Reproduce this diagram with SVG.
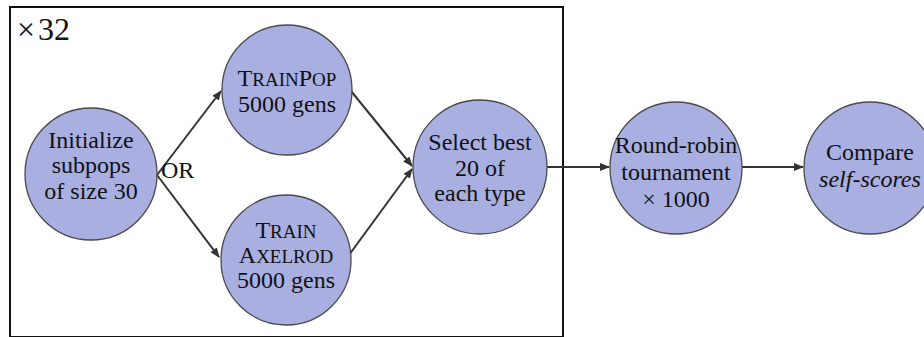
<svg xmlns="http://www.w3.org/2000/svg" width="924" height="337" viewBox="0 0 924 337">
<defs>
<marker id="ah" markerWidth="10" markerHeight="8" refX="9" refY="4" orient="auto" markerUnits="userSpaceOnUse">
<path d="M0,0 L10,4 L0,8 Z" fill="#333"/>
</marker>
<style>
.n{fill:#a9afe0;stroke:#4a4a4a;stroke-width:1.3}
.t{font-family:'Liberation Serif','Tinos','Noto Serif','DejaVu Serif',serif;font-size:24px;fill:#111;text-anchor:middle}
.sc{font-size:19px}
.e{stroke:#333;stroke-width:2;fill:none;marker-end:url(#ah)}
</style>
</defs>
<rect x="10" y="7" width="553" height="330" fill="#fff" stroke="#111" stroke-width="2"/>
<text class="t" x="17" y="40" font-size="32" style="text-anchor:start;font-size:32px">×<tspan dx="3">32</tspan></text>
<g id="connectors">
<line class="e" x1="157" y1="175" x2="221" y2="91"/>
<line class="e" x1="157" y1="175" x2="219" y2="257"/>
<line class="e" x1="351" y1="91" x2="412" y2="166"/>
<line class="e" x1="349" y1="255" x2="412" y2="169"/>
<line class="e" x1="547" y1="167" x2="609" y2="167"/>
<line class="e" x1="742" y1="167" x2="803" y2="167"/>
<text class="t" x="161" y="178" style="text-anchor:start">OR</text>
</g>
<g id="init">
<circle class="n" cx="91" cy="174" r="66"/>
<text class="t" x="91" y="148">Initialize</text>
<text class="t" x="91" y="173">subpops</text>
<text class="t" x="91" y="199">of size 30</text>
</g>
<g id="trainpop">
<circle class="n" cx="287" cy="90" r="65"/>
<text class="t" x="287" y="86">T<tspan class="sc">RAIN</tspan>P<tspan class="sc">OP</tspan></text>
<text class="t" x="287" y="112">5000 gens</text>
</g>
<g id="trainaxelrod">
<circle class="n" cx="286" cy="260" r="65"/>
<text class="t" x="286" y="238">T<tspan class="sc">RAIN</tspan></text>
<text class="t" x="286" y="263">A<tspan class="sc">XELROD</tspan></text>
<text class="t" x="286" y="288">5000 gens</text>
</g>
<g id="select">
<circle class="n" cx="480" cy="167" r="67"/>
<text class="t" x="480" y="150">Select best</text>
<text class="t" x="480" y="176">20 of</text>
<text class="t" x="480" y="201">each type</text>
</g>
<g id="roundrobin">
<circle class="n" cx="676" cy="168" r="66"/>
<text class="t" x="676" y="153">Round-robin</text>
<text class="t" x="676" y="180">tournament</text>
<text class="t" x="676" y="207">× 1000</text>
</g>
<g id="compare">
<circle class="n" cx="870" cy="168" r="66"/>
<text class="t" x="870" y="160">Compare</text>
<text class="t" x="870" y="187" font-style="italic">self-scores</text>
</g>
</svg>
